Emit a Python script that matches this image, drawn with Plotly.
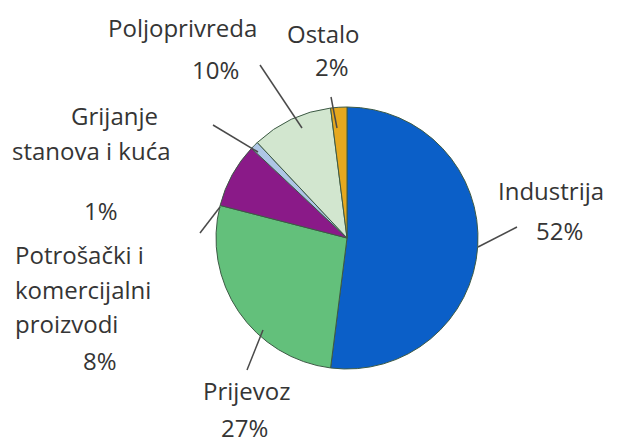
import plotly.graph_objects as go

W, H = 617, 443

# ---- data ----
categories = ["Industrija", "Prijevoz", "Potrošački i komercijalni proizvodi",
              "Grijanje stanova i kuća", "Poljoprivreda", "Ostalo"]
values = [52, 27, 8, 1, 10, 2]
colors = ["#0b5fc8", "#63c07b", "#8a1a88", "#aec6e6", "#d2e6cf", "#e6a81e"]

# ---- layout helpers (pixel -> paper) ----
def px(x):
    return x / W

def py(y):
    return 1 - y / H

FONT = "Open Sans"
FS = 24
TXT = "#353535"

fig = go.Figure(go.Pie(
    labels=categories,
    values=values,
    sort=False,
    direction="clockwise",
    rotation=0,
    textinfo="none",
    hoverinfo="label+percent",
    marker=dict(colors=colors, line=dict(color="#3d5a45", width=1)),
    domain=dict(x=[px(216), px(478)], y=[py(369), py(107)]),
    showlegend=False,
))

# label texts: (text, x, y, xanchor)
labels = [
    ("Industrija", 496, 190, "left"),
    ("52%", 559, 230, "center"),
    ("Poljoprivreda", 182, 28, "center"),
    ("10%", 215, 70, "center"),
    ("Ostalo", 323, 33, "center"),
    ("2%", 332, 67, "center"),
    ("Grijanje", 114, 115, "center"),
    ("stanova i kuća", 91, 150, "center"),
    ("1%", 101, 210, "center"),
    ("Potrošački i", 13, 254, "left"),
    ("komercijalni", 13, 289, "left"),
    ("proizvodi", 13, 323, "left"),
    ("8%", 100, 360, "center"),
    ("Prijevoz", 247, 390, "center"),
    ("27%", 244, 427, "center"),
]
annotations = []
for t, x, y, xa in labels:
    annotations.append(dict(
        text=t, x=px(x), y=py(y), xref="paper", yref="paper",
        xanchor=xa, yanchor="middle", showarrow=False,
        font=dict(family=FONT, size=FS, color=TXT),
    ))

# leader lines (pixel endpoints)
leaders = [
    (478, 247, 517, 227),
    (263, 330, 247, 370),
    (220, 207, 200, 233),
    (258, 152, 213, 125),
    (302, 128, 260, 65),
    (337, 128, 331, 97),
]
shapes = []
for x0, y0, x1, y1 in leaders:
    shapes.append(dict(
        type="line", xref="paper", yref="paper",
        x0=px(x0), y0=py(y0), x1=px(x1), y1=py(y1),
        line=dict(color="#4a4a4a", width=1.5),
    ))

fig.update_layout(
    width=W, height=H,
    margin=dict(l=0, r=0, t=0, b=0),
    paper_bgcolor="white",
    plot_bgcolor="white",
    annotations=annotations,
    shapes=shapes,
)

fig.write_html("out.html",
               config={"displayModeBar": False},
               post_script="document.body.style.margin='0';document.body.style.overflow='hidden';")
